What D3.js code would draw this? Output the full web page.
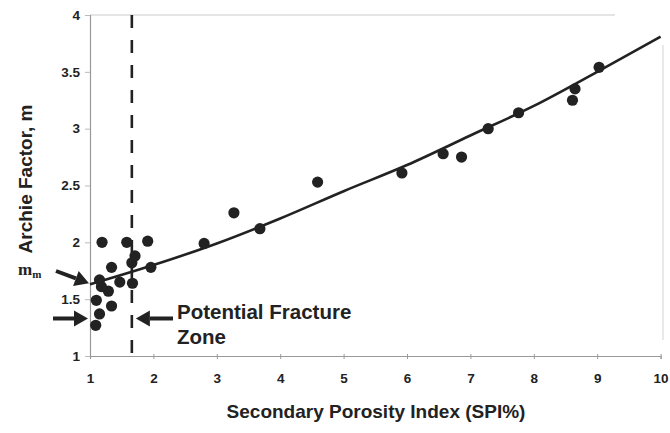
<!DOCTYPE html>
<html>
<head>
<meta charset="utf-8">
<script src="https://cdn.jsdelivr.net/npm/d3@7"></script>
<style>
  html, body { margin: 0; padding: 0; background: #fff; }
  svg { display: block; }
  text { font-family: Arial, "Liberation Sans", sans-serif; fill: #222; }
</style>
</head>
<body>
<div id="chart"></div>
<script>
// ---- Data ----
const pointSPI = [1.09, 1.15, 1.10, 1.29, 1.18, 1.15, 1.34, 1.47, 1.67, 1.34, 1.66, 1.71, 1.19, 1.58, 1.91, 1.96,
                  2.80, 3.27, 3.68, 4.59, 5.92, 6.57, 6.86, 7.28, 7.76, 8.61, 8.65, 9.03];
const pointM   = [1.27, 1.37, 1.49, 1.57, 1.61, 1.67, 1.44, 1.65, 1.64, 1.78, 1.82, 1.88, 2.00, 2.00, 2.01, 1.78,
                  1.99, 2.26, 2.12, 2.53, 2.61, 2.78, 2.75, 3.00, 3.14, 3.25, 3.35, 3.54];
// trend line
const fitSPI = [1, 2, 3, 4, 5, 6, 7, 8, 9, 10];
const fitM   = [1.63, 1.80, 1.99, 2.21, 2.45, 2.68, 2.94, 3.20, 3.50, 3.81];
// potential fracture zone limit
const zoneSPI = 1.66;
const mmValue = 1.64;
const xTicks = [1, 2, 3, 4, 5, 6, 7, 8, 9, 10];
const yTicks = [1, 1.5, 2, 2.5, 3, 3.5, 4];

const W = 670, H = 433;
const mLeft = 90, mRight = 660.6, mTop = 15, mBottom = 356;

const svg = d3.select("#chart").append("svg").attr("width", W).attr("height", H);

const x = d3.scaleLinear().domain([1, 10]).range([mLeft, mRight]);
const y = d3.scaleLinear().domain([1, 4]).range([mBottom, mTop]);

// faint frame (top / right)
svg.append("line").attr("x1", mLeft).attr("x2", 615).attr("y1", mTop).attr("y2", mTop)
  .attr("stroke", "#dcdcdc").attr("stroke-width", 1.5);
svg.append("line").attr("x1", 663).attr("x2", 663).attr("y1", 45).attr("y2", 340)
  .attr("stroke", "#e2e2e2").attr("stroke-width", 1.5);

// axes
const xAxis = d3.axisBottom(x).tickValues(xTicks).tickFormat(d3.format("d")).tickSize(3).tickPadding(14);
const yAxis = d3.axisLeft(y).tickValues(yTicks).tickFormat(d => d).tickSize(5).tickPadding(5);

const gx = svg.append("g").attr("transform", `translate(0,${mBottom})`).call(xAxis);
const gy = svg.append("g").attr("transform", `translate(${mLeft},0)`).call(yAxis);
gx.select(".domain").attr("stroke", "#999").attr("stroke-width", 1.2);
gy.select(".domain").attr("stroke", "#999").attr("stroke-width", 1.2);
gx.selectAll(".tick line").attr("stroke", "#999").attr("y1", -2);
gy.selectAll(".tick line").attr("stroke", "#bbb");
[gx, gy].forEach(g => g.selectAll(".tick text")
  .style("font-family", "Arial, 'Liberation Sans', sans-serif")
  .style("font-size", "13.5px").style("font-weight", "bold").attr("fill", "#222"));

// dashed zone line
svg.append("line")
  .attr("x1", x(zoneSPI)).attr("x2", x(zoneSPI))
  .attr("y1", y(4)).attr("y2", y(1))
  .attr("stroke", "#222").attr("stroke-width", 2.6).attr("stroke-dasharray", "13,12");

// trend line
const fitData = fitSPI.map((d, i) => [d, fitM[i]]);
svg.append("path").datum(fitData)
  .attr("d", d3.line().x(d => x(d[0])).y(d => y(d[1])).curve(d3.curveMonotoneX))
  .attr("fill", "none").attr("stroke", "#222").attr("stroke-width", 2.6);

// points
const pts = pointSPI.map((d, i) => [d, pointM[i]]);
svg.append("g").selectAll("circle").data(pts).join("circle")
  .attr("cx", d => x(d[0])).attr("cy", d => y(d[1])).attr("r", 5.6).attr("fill", "#222");

// arrows
function arrow(x1, y1, x2, y2) {
  const ang = Math.atan2(y2 - y1, x2 - x1);
  const hl = 14, hw = 8;
  const bx = x2 - hl * Math.cos(ang), by = y2 - hl * Math.sin(ang);
  svg.append("line").attr("x1", x1).attr("y1", y1).attr("x2", bx).attr("y2", by)
    .attr("stroke", "#222").attr("stroke-width", 4);
  const px = -Math.sin(ang) * hw, py = Math.cos(ang) * hw;
  svg.append("path")
    .attr("d", `M${x2},${y2}L${bx + px},${by + py}L${bx - px},${by - py}Z`)
    .attr("fill", "#222");
}
arrow(56, 271, x(1) - 1, y(mmValue));
arrow(53, y(1.33), x(1) - 2, y(1.33));
arrow(173, y(1.33), x(zoneSPI) + 4, y(1.33));

// m_m label
const mm = svg.append("text").attr("x", 18).attr("y", 275)
  .style("font-family", "'Liberation Serif', 'Times New Roman', serif")
  .style("font-size", "17px").style("font-weight", "bold");
mm.append("tspan").text("m");
mm.append("tspan").attr("dy", 3).style("font-size", "11px").text("m");

// annotation text
svg.append("text").attr("x", 177).attr("y", 319)
  .style("font-size", "20.5px").style("font-weight", "bold").text("Potential Fracture");
svg.append("text").attr("x", 177).attr("y", 344)
  .style("font-size", "20.5px").style("font-weight", "bold").text("Zone");

// axis titles
svg.append("text").attr("x", 376).attr("y", 418).attr("text-anchor", "middle")
  .style("font-size", "19px").style("font-weight", "bold").text("Secondary Porosity Index (SPI%)");
svg.append("text").attr("transform", "translate(32,179) rotate(-90)").attr("text-anchor", "middle")
  .style("font-size", "19px").style("font-weight", "bold").text("Archie Factor, m");
</script>
</body>
</html>
